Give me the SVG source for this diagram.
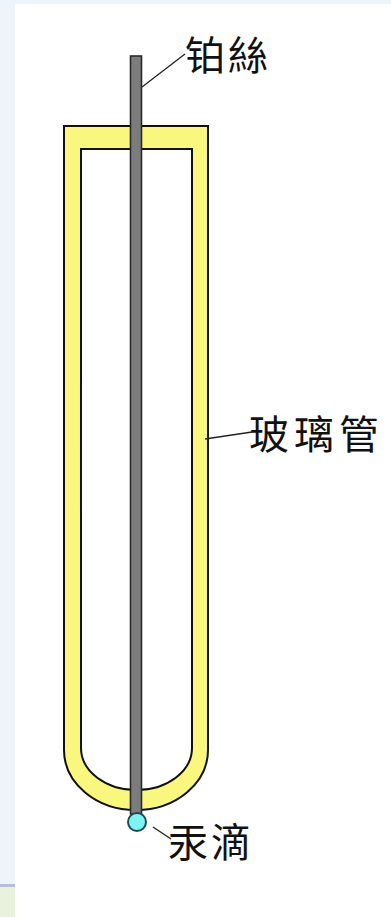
<svg xmlns="http://www.w3.org/2000/svg" width="391" height="917" viewBox="0 0 391 917">
  <style>
    .label { font-family: "Noto Sans CJK SC", "Noto Sans CJK TC", sans-serif; font-size: 40px; letter-spacing: 3px; fill: #111; }
    .leader { stroke: #222; stroke-width: 1.3; fill: none; }
    .outline { stroke: #111; stroke-width: 2; }
  </style>
  <!-- page frame -->
  <rect x="0" y="0" width="391" height="917" fill="#eef4fb"/>
  <rect x="15" y="4" width="376" height="913" fill="#ffffff"/>
  <rect x="0" y="884" width="15" height="3" fill="#b8bde0"/>
  <rect x="0" y="887" width="15" height="30" fill="#e8f2dc"/>

  <!-- glass tube: U-shaped wall with hollow interior -->
  <g id="glass-tube">
    <path class="outline" fill="#f9f77e" fill-rule="evenodd"
          d="M64,126 H208 V750 A72,60 0 0 1 64,750 Z
             M81,149 H192 V748 A55.5,42 0 0 1 81,748 Z"/>
  </g>

  <!-- platinum wire -->
  <g id="platinum-wire">
    <rect x="130.5" y="56" width="11" height="758" fill="#7c7c7c" stroke="#2a2a2a" stroke-width="1.6"/>
  </g>

  <!-- mercury drop -->
  <g id="mercury-drop">
    <circle cx="137" cy="822" r="9" fill="#7ff2f4" stroke="#1d4a55" stroke-width="2"/>
  </g>

  <!-- leader lines -->
  <g id="connectors">
    <line class="leader" x1="142" y1="87" x2="185" y2="54"/>
    <line class="leader" x1="205" y1="439" x2="252" y2="432"/>
    <line class="leader" x1="153" y1="827" x2="171" y2="839"/>
  </g>

  <g id="label-wire"><text class="label" x="185" y="70">铂絲</text></g>
  <g id="label-tube"><text class="label" x="249" y="449" style="letter-spacing:5px">玻璃管</text></g>
  <g id="label-drop"><text class="label" x="168" y="857">汞滴</text></g>
</svg>
